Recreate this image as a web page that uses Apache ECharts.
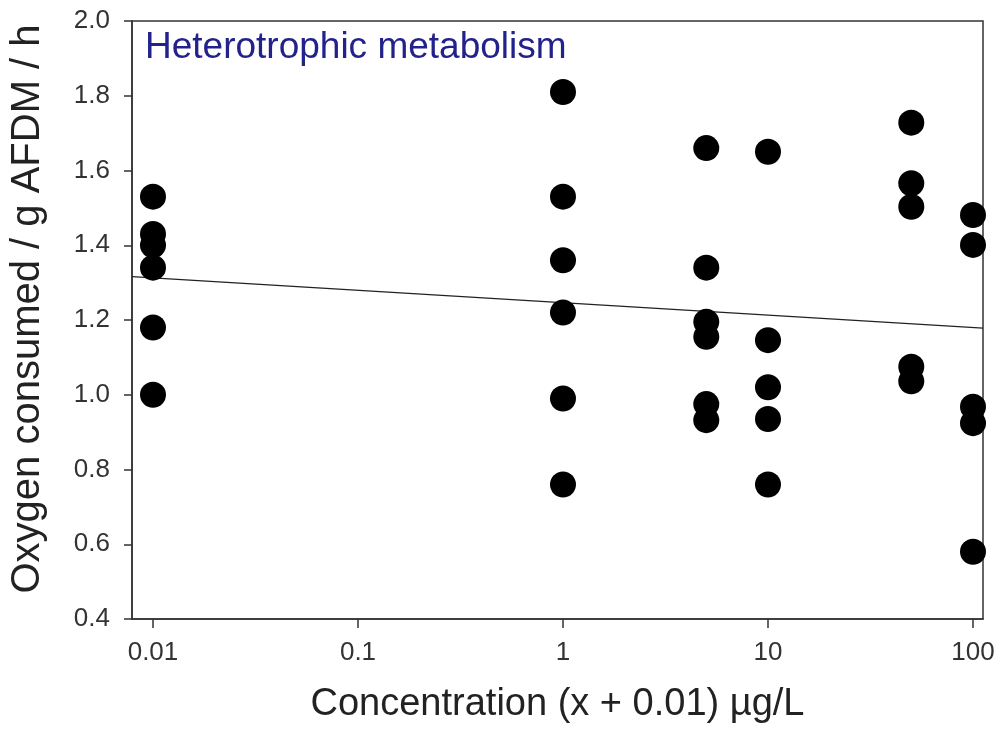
<!DOCTYPE html>
<html>
<head>
<meta charset="utf-8">
<script src="https://cdn.jsdelivr.net/npm/echarts@6/dist/echarts.min.js"></script>
<style>html,body{margin:0;padding:0;background:#fff;}#c{width:1000px;height:730px;}</style>
</head>
<body>
<div id="c"></div>
<script>
// Data
var titleText = 'Heterotrophic metabolism';
var xAxisName = 'Concentration (x + 0.01) \u00b5g/L';
var yAxisName = 'Oxygen consumed / g AFDM / h';
var xTicks = [0.01, 0.1, 1, 10, 100];
var conc001 = [1.53, 1.43, 1.40, 1.34, 1.18, 1.00];
var conc1 = [1.81, 1.53, 1.36, 1.22, 0.99, 0.76];
var conc5 = [1.66, 1.34, 1.195, 1.155, 0.975, 0.932];
var conc10 = [1.65, 1.146, 1.02, 0.935, 0.76];
var conc50 = [1.728, 1.566, 1.503, 1.075, 1.036];
var conc100 = [1.481, 1.401, 0.968, 0.924, 0.58];
var concX = [0.01, 1, 5, 10, 50, 100];
var regX = [0.0079, 111.9];
var regY = [1.316, 1.178];

var groups = [conc001, conc1, conc5, conc10, conc50, conc100];
var points = [];
groups.forEach(function (g, i) {
  g.forEach(function (v) { points.push([concX[i], v]); });
});
var regLine = regX.map(function (x, i) { return [x, regY[i]]; });

var chart = echarts.init(document.getElementById('c'), null, {renderer: 'canvas'});
var font = 'Liberation Sans, Arial, sans-serif';
chart.setOption({
  animation: false,
  backgroundColor: '#fff',
  grid: {left: 130, right: 17, top: 21, bottom: 111, show: true, borderColor: '#333', borderWidth: 1.5, backgroundColor: 'transparent'},
  graphic: [{
    type: 'text', left: 145, top: 29,
    style: {text: titleText, fill: '#22228a', font: '37px ' + font}
  }],
  xAxis: {
    type: 'log', logBase: 10, min: regX[0], max: regX[1],
    name: xAxisName, nameLocation: 'middle', nameGap: 67,
    nameTextStyle: {fontSize: 38, fontFamily: font, color: '#222'},
    axisLine: {lineStyle: {color: '#333', width: 1.5}},
    axisTick: {show: true, inside: false, length: 9, customValues: xTicks, lineStyle: {color: '#333', width: 1.5}},
    axisLabel: {customValues: xTicks, fontSize: 26, fontFamily: font, color: '#333', margin: 21,
      formatter: function (v) { return String(+v.toPrecision(6)); }},
    splitLine: {show: false}
  },
  yAxis: {
    type: 'value', min: 0.4, max: 2.0, interval: 0.2,
    name: yAxisName, nameLocation: 'middle', nameGap: 84,
    nameTextStyle: {fontSize: 40, fontFamily: font, color: '#222', padding: [0, 0, 0, 22]},
    axisLine: {show: true, lineStyle: {color: '#333', width: 1.5}},
    axisTick: {show: true, inside: false, length: 8, lineStyle: {color: '#333', width: 1.5}},
    axisLabel: {fontSize: 26, fontFamily: font, color: '#333', margin: 22,
      formatter: function (v) { return v.toFixed(1); }},
    splitLine: {show: false}
  },
  series: [
    {type: 'line', data: regLine, symbol: 'none', lineStyle: {color: '#222', width: 1.3}, z: 2},
    {type: 'scatter', data: points, symbol: 'circle', symbolSize: 26, itemStyle: {color: '#000', opacity: 1}, z: 3}
  ]
});
</script>
</body>
</html>
